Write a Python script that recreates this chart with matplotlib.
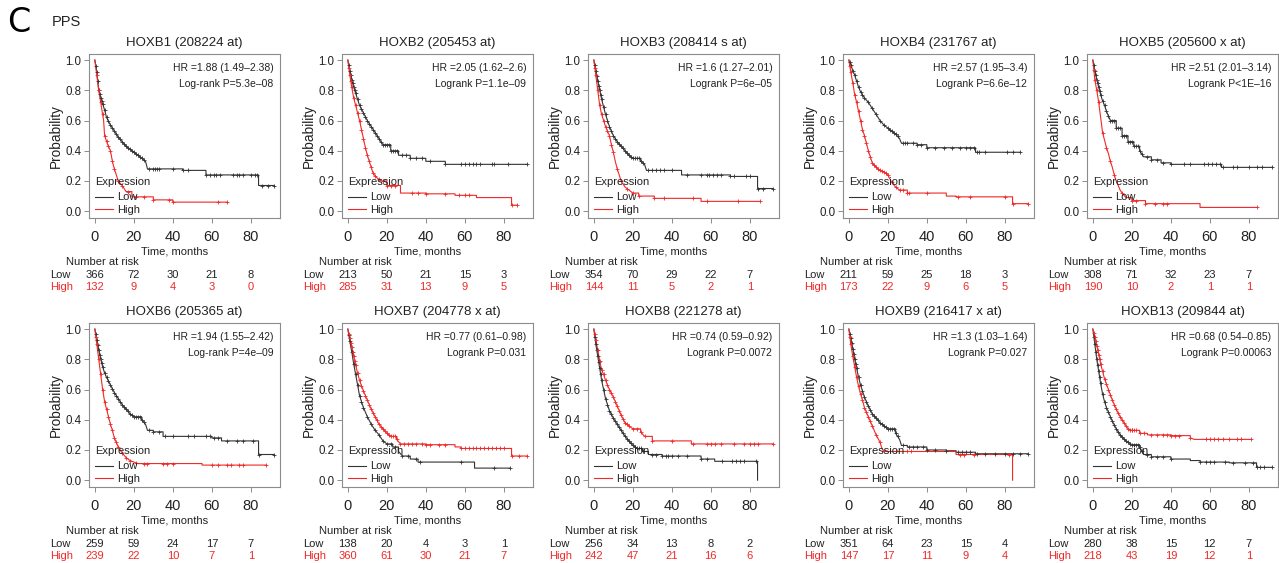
import numpy as np
import matplotlib.pyplot as plt

plt.rcParams["font.family"] = ["Liberation Sans", "DejaVu Sans"]

# ------------------------------------------------------------
# panel labels
# ------------------------------------------------------------
titles = ["HOXB1 (208224 at)", "HOXB2 (205453 at)", "HOXB3 (208414 s at)",
          "HOXB4 (231767 at)", "HOXB5 (205600 x at)", "HOXB6 (205365 at)",
          "HOXB7 (204778 x at)", "HOXB8 (221278 at)", "HOXB9 (216417 x at)",
          "HOXB13 (209844 at)"]
hr_labels = ["HR =1.88 (1.49–2.38)", "HR =2.05 (1.62–2.6)", "HR =1.6 (1.27–2.01)",
             "HR =2.57 (1.95–3.4)", "HR =2.51 (2.01–3.14)", "HR =1.94 (1.55–2.42)",
             "HR =0.77 (0.61–0.98)", "HR =0.74 (0.59–0.92)", "HR =1.3 (1.03–1.64)",
             "HR =0.68 (0.54–0.85)"]
p_labels = ["Log-rank P=5.3e–08", "Logrank P=1.1e–09", "Logrank P=6e–05",
            "Logrank P=6.6e–12", "Logrank P<1E–16", "Log-rank P=4e–09",
            "Logrank P=0.031", "Logrank P=0.0072", "Logrank P=0.027",
            "Logrank P=0.00063"]

# number at risk
risk_times = [0, 20, 40, 60, 80]
risk_low = [[366, 72, 30, 21, 8], [213, 50, 21, 15, 3], [354, 70, 29, 22, 7],
            [211, 59, 25, 18, 3], [308, 71, 32, 23, 7], [259, 59, 24, 17, 7],
            [138, 20, 4, 3, 1], [256, 34, 13, 8, 2], [351, 64, 23, 15, 4],
            [280, 38, 15, 12, 7]]
risk_high = [[132, 9, 4, 3, 0], [285, 31, 13, 9, 5], [144, 11, 5, 2, 1],
             [173, 22, 9, 6, 5], [190, 10, 2, 1, 1], [239, 22, 10, 7, 1],
             [360, 61, 30, 21, 7], [242, 47, 21, 16, 6], [147, 17, 11, 9, 4],
             [218, 43, 19, 12, 1]]

# ------------------------------------------------------------
# Kaplan-Meier curves (months, survival)
# ------------------------------------------------------------
low_t = [
    [0, 1, 2, 3, 4, 5, 6, 8, 10, 12, 14, 16, 18, 20, 22, 24, 26, 27, 45, 57, 84, 92],
    [0, 1, 2, 3, 4, 5, 6, 8, 10, 12, 14, 16, 18, 22, 26, 32, 40, 50, 92],
    [0, 1, 2, 3, 4, 5, 6, 7, 8, 10, 12, 14, 16, 18, 20, 24, 26, 27, 45, 70, 84, 92],
    [0, 1, 2, 3, 4, 5, 6, 8, 10, 12, 14, 16, 18, 20, 22, 24, 26, 27, 35, 40, 65, 88],
    [0, 1, 2, 3, 4, 5, 6, 7, 8, 9, 12, 15, 18, 21, 24, 26, 30, 35, 40, 66, 92],
    [0, 1, 2, 3, 4, 5, 6, 8, 10, 12, 14, 16, 18, 20, 24, 26, 27, 30, 35, 60, 65, 84, 92],
    [0, 1, 2, 3, 4, 5, 6, 7, 8, 10, 12, 14, 16, 18, 20, 23, 26, 28, 32, 36, 65, 83],
    [0, 1, 2, 3, 4, 5, 6, 7, 8, 10, 12, 14, 16, 18, 20, 22, 25, 28, 35, 55, 62, 84],
    [0, 1, 2, 3, 4, 5, 6, 7, 8, 10, 12, 14, 16, 18, 20, 24, 26, 27, 30, 40, 50, 55, 65, 92],
    [0, 1, 2, 3, 4, 5, 6, 7, 8, 10, 12, 14, 16, 18, 20, 24, 26, 30, 40, 50, 55, 70, 84, 92],
]
low_s = [
    [1.0, 0.92, 0.8, 0.75, 0.71, 0.67, 0.62, 0.57, 0.53, 0.49, 0.46, 0.43, 0.41, 0.39, 0.37, 0.35, 0.33, 0.28, 0.27, 0.24, 0.17, 0.17],
    [1.0, 0.93, 0.87, 0.82, 0.78, 0.74, 0.7, 0.65, 0.6, 0.56, 0.52, 0.48, 0.44, 0.4, 0.37, 0.35, 0.33, 0.31, 0.31],
    [1.0, 0.93, 0.86, 0.8, 0.74, 0.69, 0.64, 0.6, 0.56, 0.5, 0.46, 0.43, 0.4, 0.37, 0.35, 0.33, 0.31, 0.27, 0.24, 0.23, 0.15, 0.15],
    [1.0, 0.97, 0.93, 0.9, 0.86, 0.82, 0.79, 0.75, 0.72, 0.68, 0.64, 0.6, 0.57, 0.55, 0.53, 0.51, 0.48, 0.45, 0.44, 0.42, 0.39, 0.39],
    [1.0, 0.93, 0.87, 0.82, 0.77, 0.73, 0.7, 0.66, 0.63, 0.6, 0.55, 0.5, 0.46, 0.43, 0.4, 0.36, 0.34, 0.32, 0.31, 0.29, 0.29],
    [1.0, 0.93, 0.86, 0.8, 0.75, 0.71, 0.68, 0.63, 0.58, 0.54, 0.5, 0.47, 0.44, 0.42, 0.4, 0.37, 0.33, 0.32, 0.29, 0.28, 0.26, 0.17, 0.17],
    [1.0, 0.92, 0.85, 0.77, 0.7, 0.63, 0.56, 0.52, 0.48, 0.42, 0.37, 0.33, 0.3, 0.26, 0.24, 0.22, 0.19, 0.16, 0.14, 0.12, 0.08, 0.08],
    [1.0, 0.9, 0.82, 0.74, 0.66, 0.6, 0.54, 0.5, 0.46, 0.41, 0.37, 0.33, 0.29, 0.26, 0.23, 0.21, 0.19, 0.17, 0.16, 0.14, 0.125, 0.0],
    [1.0, 0.94, 0.87, 0.8, 0.74, 0.68, 0.63, 0.59, 0.55, 0.49, 0.44, 0.41, 0.38, 0.36, 0.34, 0.31, 0.27, 0.23, 0.22, 0.2, 0.195, 0.185, 0.175, 0.175],
    [1.0, 0.9, 0.8, 0.72, 0.64, 0.57, 0.52, 0.48, 0.45, 0.39, 0.34, 0.3, 0.27, 0.25, 0.235, 0.22, 0.17, 0.155, 0.14, 0.13, 0.12, 0.115, 0.085, 0.085],
]
high_t = [
    [0, 1, 2, 3, 4.5, 5, 6.6, 8, 9, 10, 11, 12, 14, 16, 19, 30, 40, 68],
    [0, 1, 2, 3, 4, 5, 6, 7, 8, 9, 10, 11, 12, 13, 15, 17, 20, 27, 40, 55, 66, 84, 87],
    [0, 1, 2, 3, 4, 5, 6, 8, 9, 10, 11, 12, 13, 14, 16, 18, 20, 23, 31, 55, 85],
    [0, 1, 2, 3, 4, 5, 6, 7, 8, 9, 10, 11, 12, 14, 16, 18, 20, 22, 24, 26, 30, 50, 55, 84, 92],
    [0, 1, 2, 3, 4, 5, 6, 7, 8, 9, 10, 11, 12, 13, 14, 15, 17, 20, 27, 55, 84],
    [0, 1, 2, 3, 4, 5, 6, 7, 8, 9, 10, 12, 14, 16, 18, 20, 22, 55, 88],
    [0, 1, 2, 3, 4, 5, 6, 8, 10, 12, 14, 16, 18, 20, 22, 25, 27, 40, 55, 58, 84, 92],
    [0, 1, 2, 3, 4, 5, 6, 8, 10, 12, 14, 16, 18, 20, 24, 26, 30, 50, 92],
    [0, 1, 2, 3, 4, 5, 6, 7, 8, 10, 12, 14, 16, 17, 18, 55, 84],
    [0, 1, 2, 3, 4, 5, 6, 8, 10, 12, 14, 16, 18, 20, 24, 28, 40, 50, 52, 81],
]
high_s = [
    [1.0, 0.9, 0.8, 0.72, 0.6, 0.5, 0.44, 0.4, 0.33, 0.28, 0.24, 0.2, 0.17, 0.13, 0.095, 0.075, 0.06, 0.06],
    [1.0, 0.9, 0.82, 0.75, 0.7, 0.65, 0.6, 0.54, 0.48, 0.42, 0.37, 0.33, 0.29, 0.25, 0.22, 0.2, 0.17, 0.12, 0.115, 0.105, 0.09, 0.04, 0.04],
    [1.0, 0.9, 0.8, 0.7, 0.64, 0.6, 0.56, 0.5, 0.44, 0.39, 0.33, 0.28, 0.24, 0.2, 0.16, 0.14, 0.12, 0.1, 0.085, 0.065, 0.065],
    [1.0, 0.92, 0.85, 0.77, 0.72, 0.66, 0.6, 0.54, 0.5, 0.45, 0.4, 0.36, 0.32, 0.29, 0.27, 0.26, 0.24, 0.19, 0.16, 0.14, 0.12, 0.1, 0.095, 0.05, 0.05],
    [1.0, 0.87, 0.8, 0.72, 0.62, 0.52, 0.47, 0.42, 0.38, 0.33, 0.29, 0.24, 0.2, 0.17, 0.14, 0.12, 0.09, 0.07, 0.05, 0.025, 0.025],
    [1.0, 0.9, 0.8, 0.7, 0.6, 0.52, 0.47, 0.42, 0.37, 0.33, 0.28, 0.22, 0.18, 0.15, 0.13, 0.12, 0.11, 0.1, 0.1],
    [1.0, 0.94, 0.88, 0.82, 0.76, 0.71, 0.66, 0.59, 0.53, 0.47, 0.42, 0.37, 0.34, 0.31, 0.29, 0.27, 0.24, 0.235, 0.22, 0.21, 0.16, 0.16],
    [1.0, 0.93, 0.86, 0.79, 0.73, 0.7, 0.66, 0.6, 0.55, 0.49, 0.43, 0.38, 0.36, 0.34, 0.32, 0.29, 0.26, 0.24, 0.24],
    [1.0, 0.9, 0.82, 0.75, 0.68, 0.62, 0.57, 0.53, 0.48, 0.42, 0.36, 0.3, 0.25, 0.21, 0.19, 0.17, 0.0],
    [1.0, 0.95, 0.89, 0.83, 0.77, 0.72, 0.67, 0.6, 0.53, 0.47, 0.42, 0.38, 0.34, 0.33, 0.31, 0.3, 0.295, 0.28, 0.27, 0.27],
]

# censoring times (months)
early = [0.5, 1, 1.5, 2, 2.5, 3, 3.5, 4, 5, 6, 7, 8, 9, 10, 11, 12, 13, 14, 15, 16,
         17, 18, 19, 20, 21, 22, 23, 24, 25]
low_cens = [
    early + [28, 30, 31, 32, 33, 40, 45, 48, 57, 59, 61, 62, 64, 71, 73, 74, 76, 80, 82, 83, 86, 89, 92],
    early + [28, 30, 32, 35, 38, 42, 50, 58, 60, 62, 64, 66, 68, 74, 75, 82, 92],
    early + [28, 30, 32, 34, 36, 40, 48, 55, 58, 59, 61, 63, 65, 70, 72, 78, 80, 84, 87, 92],
    [0.5, 1, 2, 3, 4, 5, 6, 7, 8, 10, 12, 14, 16, 18, 20, 21, 22, 23, 24, 25, 28, 29, 30,
     33, 35, 37, 40, 44, 49, 53, 57, 60, 62, 64, 66, 67, 70, 81, 84, 88],
    early + [28, 30, 33, 36, 40, 47, 50, 57, 59, 61, 63, 65, 67, 72, 74, 80, 84, 87, 92],
    early + [28, 30, 33, 36, 40, 48, 51, 57, 59, 61, 63, 68, 73, 76, 81, 84, 92],
    [0.5, 1, 2, 3, 4, 5, 6, 7, 8, 10, 12, 14, 16, 18, 20, 22, 24, 28, 31, 35, 37, 58, 75, 83],
    early + [30, 32, 35, 37, 38, 40, 43, 48, 55, 58, 66, 71, 73, 75, 77, 83],
    early + [28, 31, 33, 35, 38, 40, 44, 50, 56, 58, 60, 62, 66, 70, 75, 80, 84, 88, 92],
    early + [28, 30, 33, 36, 40, 55, 58, 60, 62, 68, 72, 78, 82, 84, 86, 88, 92],
]
high_cens = [
    [1, 2, 3, 4, 5, 6, 7, 8, 9, 10, 12, 14, 17, 21, 25, 30, 38, 40, 63, 68],
    [0.5, 1, 1.5, 2, 3, 4, 5, 6, 7, 8, 9, 10, 11, 12, 13, 14, 16, 18, 20, 22, 24, 33, 36,
     40, 50, 57, 60, 62, 84, 87],
    [0.5, 1, 2, 3, 4, 5, 6, 7, 8, 9, 10, 12, 14, 17, 20, 23, 31, 36, 51, 58, 74, 85],
    [0.5, 1, 2, 3, 4, 5, 6, 7, 8, 9, 10, 11, 12, 13, 14, 15, 16, 17, 18, 19, 20, 22, 24,
     26, 28, 30, 31, 40, 56, 62, 80, 84, 92],
    [0.5, 1, 2, 3, 5, 7, 9, 11, 15, 20, 22, 27, 32, 36, 38, 84],
    [0.5, 1, 2, 3, 4, 5, 6, 7, 8, 9, 10, 11, 12, 14, 16, 18, 21, 25, 27, 35, 37, 40, 60,
     63, 68, 70, 74, 76, 88],
    early + [27, 29, 31, 33, 35, 38, 40, 42, 47, 50, 58, 60, 62, 64, 66, 68, 70, 72, 74,
             76, 78, 80, 84, 88, 92],
    [0.5, 1, 2, 3, 4, 5, 6, 7, 8, 9, 10, 11, 12, 13, 14, 15, 16, 17, 18, 20, 22, 24, 26,
     30, 40, 51, 58, 60, 62, 65, 72, 77, 80, 82, 84, 92],
    [0.5, 1, 2, 3, 4, 5, 6, 7, 8, 9, 10, 11, 12, 14, 16, 18, 24, 30, 32, 57, 59, 64, 82],
    early[:-4] + [20, 22, 24, 26, 30, 33, 36, 38, 40, 42, 44, 50, 58, 60, 62, 64, 67, 70,
                  74, 76, 81],
]

# ------------------------------------------------------------
# layout (pixels of a 1279 x 563 figure)
# ------------------------------------------------------------
W, H = 1279, 563
col_left = [89, 342, 588, 843, 1087]
row_bottom = [218, 487]
ax_w, ax_h = 191, 164

low_color = "#333333"
high_color = "#f02828"
frame_color = "#8c8c8c"
text_color = "#222222"


def km_path(times, surv, gap=2.5):
    # dense early events read as a smooth decline, long gaps as flat steps
    xs, ys = [times[0]], [surv[0]]
    for k in range(1, len(times)):
        if times[k] - times[k - 1] > gap:
            xs.append(times[k])
            ys.append(surv[k - 1])
        xs.append(times[k])
        ys.append(surv[k])
    return np.array(xs, dtype=float), np.array(ys, dtype=float)


fig = plt.figure(figsize=(W / 100, H / 100), dpi=100)

fig.text(7 / W, 1 - 22 / H, "C", fontsize=24, va="center", ha="left",
         family=["DejaVu Sans"])
fig.text(52 / W, 1 - 22 / H, "PPS", fontsize=10.5, va="center", ha="left",
         color=text_color)

for i in range(10):
    row, col = divmod(i, 5)
    ax = fig.add_axes([col_left[col] / W, 1 - row_bottom[row] / H,
                       ax_w / W, ax_h / H])

    lx, ly = km_path(low_t[i], low_s[i])
    hx, hy = km_path(high_t[i], high_s[i])

    ax.plot(lx, ly, color=low_color, lw=0.8, label="Low")
    ax.plot(hx, hy, color=high_color, lw=0.8, label="High")

    lc = np.array(low_cens[i], dtype=float)
    hc = np.array(high_cens[i], dtype=float)
    ax.plot(lc, np.interp(lc, lx, ly), "+", color=low_color, ms=3.5, mew=0.6)
    ax.plot(hc, np.interp(hc, hx, hy), "+", color=high_color, ms=3.5, mew=0.6)

    ax.set_xlim(-3, 95)
    ax.set_ylim(-0.045, 1.04)
    ax.set_xticks([0, 20, 40, 60, 80])
    ax.set_yticks([0, 0.2, 0.4, 0.6, 0.8, 1.0])
    ax.set_yticklabels(["0.0", "0.2", "0.4", "0.6", "0.8", "1.0"])
    ax.tick_params(axis="x", labelsize=10.5, length=3.5, width=0.7,
                   color=frame_color, labelcolor=text_color, pad=5)
    ax.tick_params(axis="y", labelsize=8.3, length=3.5, width=0.7,
                   color=frame_color, labelcolor=text_color, pad=2)
    for sp in ax.spines.values():
        sp.set_color(frame_color)
        sp.set_linewidth(0.8)

    ax.set_ylabel("Probability", fontsize=9.8, labelpad=2, color=text_color)
    ax.set_title(titles[i], fontsize=9.5, pad=6, color=text_color)

    ax.text(0.965, 0.915, hr_labels[i], transform=ax.transAxes, ha="right",
            va="center", fontsize=7.5, color=text_color)
    ax.text(0.965, 0.815, p_labels[i], transform=ax.transAxes, ha="right",
            va="center", fontsize=7.5, color=text_color)

    leg = ax.legend(title="Expression", loc="lower left",
                    bbox_to_anchor=(0.03, 0.02), frameon=False, fontsize=8,
                    title_fontsize=8, handlelength=1.6, handletextpad=0.4,
                    labelspacing=0.2, borderpad=0, borderaxespad=0)
    leg._legend_box.align = "left"
    leg._legend_box.sep = 4
    leg.get_title().set_color(text_color)
    for txt in leg.get_texts():
        txt.set_color(text_color)

    # axis label and risk table below the panel
    xt = ax.get_xaxis_transform()
    ax.text(41, -0.205, "Time, months", transform=xt, ha="center", va="center",
            fontsize=8, color=text_color)
    ax.text(4, -0.27, "Number at risk", transform=xt, ha="center", va="center",
            fontsize=8, color=text_color)
    ax.text(-23, -0.345, "Low", transform=xt, ha="left", va="center",
            fontsize=8, color=text_color)
    ax.text(-23, -0.42, "High", transform=xt, ha="left", va="center",
            fontsize=8, color=high_color)
    for t, nl, nh in zip(risk_times, risk_low[i], risk_high[i]):
        ax.text(t, -0.345, str(nl), transform=xt, ha="center", va="center",
                fontsize=8, color=text_color)
        ax.text(t, -0.42, str(nh), transform=xt, ha="center", va="center",
                fontsize=8, color=high_color)

fig.savefig("out.png", dpi=100)
